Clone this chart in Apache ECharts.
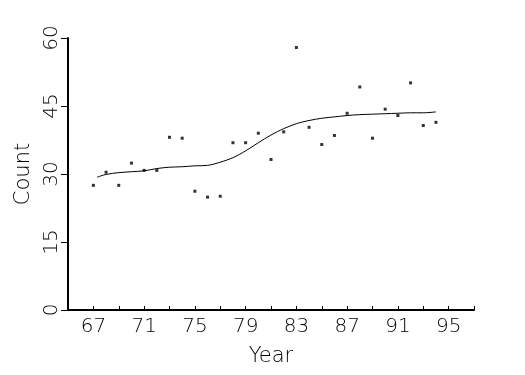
<!DOCTYPE html>
<html>
<head>
<meta charset="utf-8">
<script src="https://cdn.jsdelivr.net/npm/echarts@6/dist/echarts.min.js"></script>
<style>
html,body{margin:0;padding:0;background:#fff;}
#c{width:525px;height:375px;}
</style>
</head>
<body>
<div id="c"></div>
<script>
// Observed data points
var years  = [67,68,69,70,71,72,73,74,75,76,77,78,79,80,81,82,83,84,85,86,87,88,89,90,91,92,93,94];
var counts = [27.5,30.4,27.5,32.4,30.8,30.8,38.1,37.9,26.2,24.9,25.1,36.9,36.9,39.0,33.2,39.3,57.9,40.3,36.5,38.5,43.4,49.2,37.9,44.3,42.9,50.1,40.7,41.4];
// Smoothed curve
var smoothYears  = [67.3,68,69,70,71,72,73,74,75,76,77,78,79,80,81,82,83,84,85,86,87,88,89,90,91,92,93,94];
var smoothCounts = [29.3,29.9,30.3,30.5,30.7,31.2,31.5,31.6,31.8,31.9,32.6,33.6,35.1,36.9,38.6,40.0,41.1,41.8,42.3,42.6,42.9,43.1,43.2,43.3,43.4,43.5,43.5,43.7];
// Axis settings
var xTickLabels = [67,71,75,79,83,87,91,95];
var yTickLabels = [0,15,30,45,60];

var font = '"DejaVu Sans ExtraLight", "DejaVu Sans", sans-serif';
var chart = echarts.init(document.getElementById('c'), null, {renderer:'canvas'});
chart.setOption({
  animation:false,
  backgroundColor:'#fff',
  grid:{left:68,right:51,top:38,bottom:65,containLabel:false},
  xAxis:{
    type:'value', min:65, max:97, interval:2,
    name:'Year', nameLocation:'middle', nameGap:36,
    nameTextStyle:{fontFamily:font,fontWeight:200,fontSize:21,color:'#000'},
    axisLine:{show:true,lineStyle:{color:'#000',width:2}},
    axisTick:{show:true,inside:true,length:4,lineStyle:{color:'#000',width:1}},
    axisLabel:{
      margin:7, fontFamily:font, fontWeight:200, fontSize:20, color:'#000',
      formatter:function(v){return xTickLabels.indexOf(v)>=0 ? String(v) : '';}
    },
    splitLine:{show:false}
  },
  yAxis:{
    type:'value', min:0, max:60, interval:15,
    name:'Count', nameLocation:'middle', nameGap:29, nameRotate:90,
    nameTextStyle:{fontFamily:font,fontWeight:200,fontSize:21,color:'#000'},
    axisLine:{show:true,lineStyle:{color:'#000',width:2}},
    axisTick:{show:true,inside:false,length:7,lineStyle:{color:'#000',width:1}},
    axisLabel:{
      rotate:90, margin:6, fontFamily:font, fontWeight:200, fontSize:20, color:'#000',
      formatter:function(v){return yTickLabels.indexOf(v)>=0 ? String(v) : '';}
    },
    splitLine:{show:false}
  },
  series:[
    {
      type:'scatter',
      data:years.map(function(y,i){return [y,counts[i]];}),
      symbol:'rect', symbolSize:3,
      itemStyle:{color:'#000'}
    },
    {
      type:'line',
      data:smoothYears.map(function(y,i){return [y,smoothCounts[i]];}),
      showSymbol:false, smooth:0.3,
      lineStyle:{color:'#000',width:1}
    }
  ]
});
</script>
</body>
</html>
